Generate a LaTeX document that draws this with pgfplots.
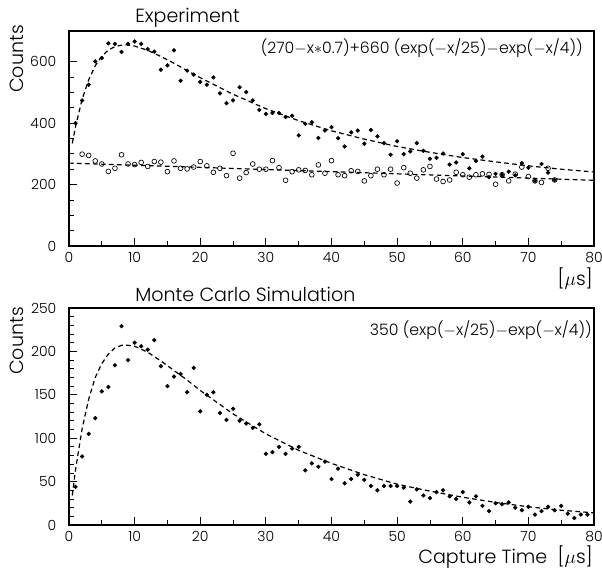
\documentclass[border=0pt]{standalone}
\usepackage{pgfplots}
\pgfplotsset{compat=1.18}
\usepackage{fontspec}
\setmainfont{Poppins}[UprightFont=* Light]

\pgfplotstableread{
x y
1 400
2 474
3 525
4 601
5 612
6 660
7 658
8 632
9 658
10 666
11 658
12 641
13 633
14 574
15 588
16 637
17 538
18 571
19 558
20 534
21 525
22 549
23 497
24 465
25 474
26 517
27 501
28 474
29 443
30 430
31 433
32 433
33 420
34 424
35 360
36 398
37 403
38 352
39 376
40 387
41 351
42 324
43 370
44 376
45 333
46 378
47 357
48 335
49 297
50 341
51 299
52 308
53 335
54 310
55 284
56 287
57 301
58 265
59 272
60 299
61 253
62 277
63 291
64 224
65 235
66 232
67 242
68 230
69 270
70 255
71 212
72 267
73 239
74 215
}\expfull

\pgfplotstableread{
x y
2 299
3 295
4 277
5 267
6 243
7 253
8 297
9 267
10 265
11 272
12 259
13 275
14 273
15 242
16 277
17 253
18 251
19 257
20 275
21 261
22 240
23 253
24 229
25 302
26 221
27 239
28 267
29 250
30 250
31 278
32 255
33 214
34 242
35 248
36 246
37 232
38 264
39 237
40 278
41 232
42 229
43 245
44 243
45 212
46 229
47 250
48 232
49 250
50 205
51 255
52 237
53 221
54 248
55 259
56 218
57 210
58 215
59 240
60 232
61 224
62 232
63 235
64 233
65 201
66 232
67 212
68 234
69 257
70 226
71 212
72 207
73 253
74 215
}\expopen

\pgfplotstableread{
x y
1 44
2 79
3 105
4 123
5 154
6 159
7 184
8 229
9 190
10 210
11 206
12 202
13 213
14 183
15 160
16 171
17 174
18 153
19 181
20 131
21 150
22 153
23 129
24 121
25 134
26 120
27 117
28 112
29 116
30 82
31 84
32 90
33 82
34 88
35 90
36 63
37 71
38 67
39 73
40 53
41 65
42 48
43 53
44 58
45 52
46 45
47 40
48 45
49 45
50 45
51 43
52 27
53 41
54 34
55 31
56 38
57 40
58 33
59 30
60 38
61 26
62 33
63 22
64 16
65 25
66 24
67 26
68 20
69 17
70 21
71 12
72 16
73 21
74 17
75 22
76 13
77 8
78 12
79 12
}\mcsim

% dashed fit curves as drawn
\pgfplotstableread{
x y
0.5 334
1 389
2 478
3 541
4 587
5 618
6 638
7 649
8 654
9 655
10 651
12 637
14 617
16 595
18 571
20 548
25 494
30 447
35 408
40 375
45 348
50 324
55 305
60 288
65 274
70 261
75 250
80 241
}\fitfull

\pgfplotstableread{
x y
0 270
80 214
}\fitopen

\pgfplotstableread{
x y
0.5 34
1 64
2 111
3 145
4 170
5 186
6 197
7 204
8 207
9 207
10 206
12 199
14 189
16 178
18 167
20 155
25 128
30 105
35 86
40 71
45 58
50 47
55 39
60 32
65 26
70 21
75 17
80 14
}\fitmc

\pgfplotsset{
  panel/.style={
    scale only axis, width=393.75pt,
    xmin=0, xmax=80, xtick={0,10,...,80}, minor x tick num=1,
    tick pos=left, tick align=inside,
    major tick length=6pt, minor tick length=3.5pt,
    axis line style={line width=0.9pt}, tick style={line width=0.6pt, black},
    /pgf/number format/assume math mode=true,
    ticklabel style={font=\fontsize{10.5}{12}\selectfont},
    yticklabel style={xshift=-6pt},
    xticklabel style={yshift=-1pt},
    clip=false,
  },
  fitline/.style={black, line width=0.9pt, dash pattern=on 3.5pt off 2.5pt, no marks},
  dots/.style={only marks, mark=*, mark size=1.4pt, black},
  rings/.style={only marks, mark=o, mark size=1.8pt, black, mark options={line width=0.5pt}},
}

\begin{document}
\begin{tikzpicture}
\useasboundingbox (0,0) rectangle (451.5pt,-429.75pt);

\begin{axis}[panel, at={(51.75pt,-184.5pt)}, anchor=south west,
  height=161.25pt, ymin=0, ymax=700, ytick={0,200,400,600}, minor y tick num=3]
\addplot[fitline] table {\fitopen};
\addplot[fitline] table {\fitfull};
\addplot[rings] table {\expopen};
\addplot[dots] table {\expfull};
\end{axis}

\begin{axis}[panel, at={(51.75pt,-393.75pt)}, anchor=south west,
  height=162.75pt, ymin=0, ymax=250, ytick={0,50,...,250}, minor y tick num=4]
\addplot[fitline] table {\fitmc};
\addplot[dots] table {\mcsim};
\end{axis}

\node[anchor=base west, font=\fontsize{14.3}{16}\selectfont, inner sep=0pt] at (101.25pt,-17.25pt) {Experiment};
\node[anchor=base west, font=\fontsize{14.3}{16}\selectfont, inner sep=0pt] at (101.25pt,-225.75pt) {Monte Carlo Simulation};
\node[rotate=90, anchor=east, font=\fontsize{14.3}{16}\selectfont, inner sep=0pt] at (12.75pt,-18.75pt) {Counts};
\node[rotate=90, anchor=east, font=\fontsize{14.3}{16}\selectfont, inner sep=0pt] at (12.75pt,-230.25pt) {Counts};
\node[anchor=base east, font=\fontsize{14.3}{16}\selectfont, inner sep=0pt] at (444.75pt,-214.5pt) {[$\mu$s]};
\node[anchor=base east, font=\fontsize{14.3}{16}\selectfont, inner sep=0pt] at (444.75pt,-422.25pt) {Capture Time\ \ [$\mu$s]};
\node[anchor=base east, font=\fontsize{11.8}{13}\selectfont, inner sep=0pt] at (437.25pt,-40.5pt) {(270$-$x$*$0.7)+660\ (exp($-$x/25)$-$exp($-$x/4))};
\node[anchor=base east, font=\fontsize{11.8}{13}\selectfont, inner sep=0pt] at (444pt,-251.25pt) {350\ (exp($-$x/25)$-$exp($-$x/4))};
\end{tikzpicture}
\end{document}
